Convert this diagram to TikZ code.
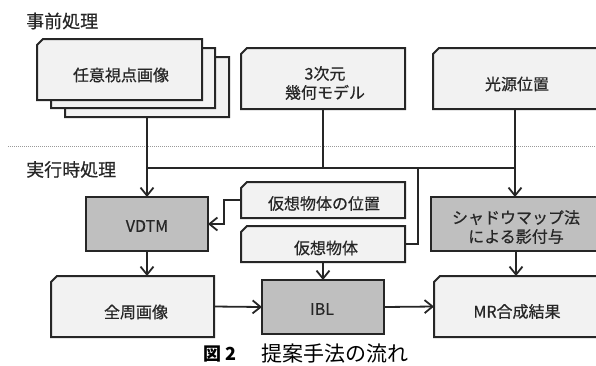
\documentclass[tikz,border=0pt]{standalone}
\usepackage{fontspec}
\setmainfont{Noto Sans CJK JP}
\newfontfamily\boxfont{Noto Sans CJK JP}[FakeBold=0.5]
\usetikzlibrary{arrows.meta}
\definecolor{edge}{HTML}{262626}
\definecolor{lightf}{HTML}{F2F2F2}
\definecolor{grayf}{HTML}{BFBFBF}
\newcommand\chamferbox[1]{%
  \filldraw[draw=edge, line width=2pt, fill=lightf, line join=miter]
    ([yshift=-6pt]#1.north west) -- ([xshift=6pt]#1.north west) --
    (#1.north east) -- (#1.south east) -- (#1.south west) -- cycle;}
\begin{document}
\begin{tikzpicture}[x=1pt,y=-1pt,
  ch/.style={rectangle, inner sep=0pt, outer sep=0pt},
  gr/.style={rectangle, draw=edge, line width=2pt, fill=grayf, inner sep=0pt, outer sep=0pt},
  lbl/.style={font=\boxfont\fontsize{16}{19}\selectfont, text=edge, align=center, inner sep=0pt},
  ttl/.style={font=\boxfont\fontsize{18}{20}\selectfont, text=edge, anchor=west, inner sep=0pt},
  conn/.style={draw=edge, line width=1.8pt},
  arr/.style={conn, -{Straight Barb[length=8pt,width=13pt]}}]
\useasboundingbox (0,0) rectangle (596,365);
% separator
\draw[dash pattern=on 1pt off 1pt, line width=0.8pt, color=gray!80] (8,146) -- (596,146);
% titles
\node[ttl] (h1) at (26,21) {事前処理};
\node[ttl] (h2) at (26,169.5) {実行時処理};
% boxes
\node[ch, minimum width=164pt, minimum height=60pt] (s3) at (147,87) {};
\chamferbox{s3}
\node[ch, minimum width=164pt, minimum height=60pt] (s2) at (133,78) {};
\chamferbox{s2}
\node[ch, minimum width=165pt, minimum height=61pt] (s1) at (119.5,69.5) {};
\chamferbox{s1}
\node[ch, minimum width=164pt, minimum height=61pt] (model) at (323,78.5) {};
\chamferbox{model}
\node[ch, minimum width=164pt, minimum height=61pt] (light) at (515,78.5) {};
\chamferbox{light}
\node[gr, minimum width=122pt, minimum height=54pt] (vdtm) at (147,224) {};
\node[ch, minimum width=164pt, minimum height=36pt] (pos) at (323,200) {};
\chamferbox{pos}
\node[ch, minimum width=164pt, minimum height=36pt] (obj) at (323,244) {};
\chamferbox{obj}
\node[gr, minimum width=170pt, minimum height=54pt] (shadow) at (516,224) {};
\node[ch, minimum width=163pt, minimum height=61pt] (zen) at (132.5,306.5) {};
\chamferbox{zen}
\node[gr, minimum width=122pt, minimum height=54pt] (ibl) at (323,307) {};
\node[ch, minimum width=163pt, minimum height=61pt] (mr) at (515.5,306.5) {};
\chamferbox{mr}
% texts
\node[lbl] (t1) at (121,75) {任意視点画像};
\node[lbl] (t2) at (325,83) {3次元\\幾何モデル};
\node[lbl] (t3) at (517,84) {光源位置};
\node[lbl] (t4) at (147,226) {VDTM};
\node[lbl] (t5) at (324,203.5) {仮想物体の位置};
\node[lbl] (t6) at (326,248) {仮想物体};
\node[lbl] (t7) at (516,227) {シャドウマップ法\\による影付与};
\node[lbl] (t8) at (136,312) {全周画像};
\node[lbl] (t9) at (322,309) {IBL};
\node[lbl] (t10) at (517,311.5) {MR合成結果};
% connectors
\coordinate (bus) at (0,168);
\coordinate (brx) at (418,168);
\draw[arr] (s3.south) -- (vdtm.north);
\draw[conn] (model.south) -- (model.south |- bus);
\draw[conn] (s3.south |- bus) -- (light.south |- bus);
\draw[arr] (light.south) -- (light.south |- shadow.north);
\draw[conn] (brx) |- (obj.east);
\draw[arr] (pos.west) -- ++(-17,0) |- (vdtm.east);
\draw[arr] (vdtm.south) -- (vdtm.south |- zen.north);
\draw[arr] (zen.east) -- (ibl.west);
\draw[arr] (obj.south) -- (ibl.north);
\draw[arr] (ibl.east) -- (mr.west);
\draw[arr] (shadow.south) -- (shadow.south |- mr.north);
% caption
\node[anchor=west, inner sep=0pt, font=\fontsize{18}{20}\selectfont\bfseries] (cap1) at (203,354) {図 2};
\node[anchor=west, inner sep=0pt, font=\fontsize{21}{22}\selectfont] (cap2) at (261,354) {提案手法の流れ};
\end{tikzpicture}
\end{document}
